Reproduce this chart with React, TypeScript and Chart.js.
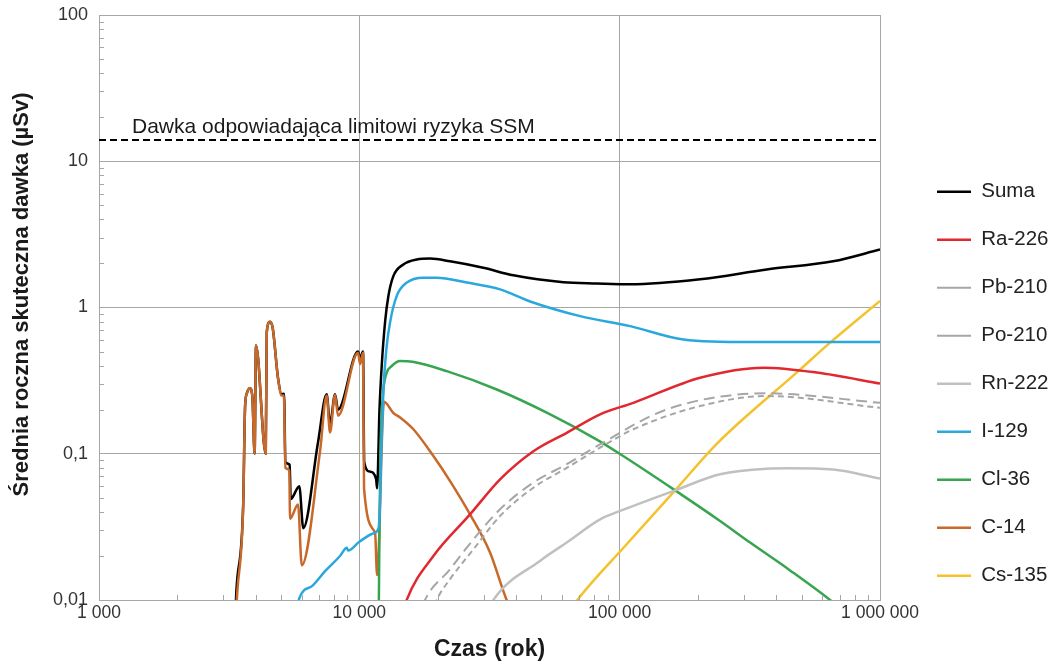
import React, { useEffect, useRef } from "react";
import { Chart, registerables } from "chart.js";

Chart.register(...registerables);

// ---- data (years, µSv) ----
const X_TICKS = [1000, 10000, 100000, 1000000];
const Y_TICKS = [0.01, 0.1, 1, 10, 100];
const LIMIT_VALUE = 14;
const LIMIT_LABEL = "Dawka odpowiadająca limitowi ryzyka SSM";
const X_TITLE = "Czas (rok)";
const Y_TITLE = "Średnia roczna skuteczna dawka (µSv)";

const SUMA: [number, number][] = [
  [3350, 0.009], [3370, 0.0115], [3580, 0.045], [3640, 0.21], [3700, 0.26], [3800, 0.28], [3880, 0.25],
  [3960, 0.1], [4010, 0.55], [4370, 0.1], [4410, 0.68], [4540, 0.8], [4650, 0.72], [4870, 0.33],
  [5030, 0.255], [5140, 0.257], [5200, 0.088], [5400, 0.084], [5450, 0.049], [5880, 0.06], [6090, 0.031],
  [6940, 0.12], [7490, 0.255], [7716, 0.16], [8065, 0.255], [8283, 0.2], [9886, 0.5], [10062, 0.45],
  [10333, 0.5], [10440, 0.088], [10990, 0.0755], [11600, 0.067], [11700, 0.058], [11950, 0.2],
  [12190, 0.4], [12560, 0.8], [12930, 1.2], [13510, 1.64], [14760, 1.97], [16620, 2.13], [18690, 2.16],
  [22310, 2.07], [29930, 1.87], [39060, 1.66], [60800, 1.49], [81700, 1.46], [109700, 1.44],
  [203700, 1.56], [367000, 1.82], [660000, 2.07], [1000000, 2.49],
];
const RA226: [number, number][] = [
  [15000, 0.0092], [15200, 0.01], [19250, 0.02], [26620, 0.0385], [34720, 0.0668], [46620, 0.104],
  [62600, 0.139], [84100, 0.186], [112900, 0.223], [203700, 0.331], [356500, 0.388], [571600, 0.359],
  [1000000, 0.302],
];
const PB210: [number, number][] = [
  [17600, 0.0092], [17880, 0.01], [22310, 0.0162], [25860, 0.0228], [34720, 0.0417], [46620, 0.0636],
  [62600, 0.0848], [84100, 0.116], [151700, 0.201], [367000, 0.259], [1000000, 0.223],
];
const PO210: [number, number][] = [
  [19500, 0.0092], [19830, 0.01], [22310, 0.0139], [27420, 0.0222], [34720, 0.0375], [46620, 0.0586],
  [62600, 0.08], [84100, 0.11], [112900, 0.147], [203700, 0.212], [367000, 0.248], [1000000, 0.206],
];
const RN222: [number, number][] = [
  [32000, 0.0092], [32720, 0.01], [49400, 0.0185], [62600, 0.0247], [84100, 0.0356], [100000, 0.0405],
  [163300, 0.0562], [243000, 0.0724], [367000, 0.079], [450000, 0.0795], [660000, 0.078],
  [1000000, 0.0676],
];
const I129: [number, number][] = [
  [5830, 0.0095], [5870, 0.0102], [6600, 0.0125], [7400, 0.0158], [8430, 0.02], [8950, 0.0228],
  [9050, 0.0218], [10000, 0.025], [11300, 0.0285], [11850, 0.031], [12000, 0.045], [12150, 0.11],
  [12370, 0.27], [12700, 0.52], [13120, 0.79], [13920, 1.2], [15200, 1.48], [17620, 1.6], [19830, 1.6],
  [25860, 1.48], [34720, 1.33], [45290, 1.1], [70500, 0.873], [109700, 0.746], [175800, 0.605],
  [317000, 0.58], [1000000, 0.58],
];
const CL36: [number, number][] = [
  [11880, 0.009], [11950, 0.03], [12050, 0.1], [12150, 0.17], [12370, 0.275], [12740, 0.358],
  [13320, 0.398], [14340, 0.43], [16000, 0.425], [21670, 0.367], [33730, 0.275], [52480, 0.191],
  [81700, 0.125], [100000, 0.1], [163300, 0.0562], [243000, 0.0347], [317000, 0.0247], [450000, 0.016],
  [643000, 0.01], [700000, 0.0088],
];
const C14: [number, number][] = [
  [3370, 0.009], [3400, 0.0115], [3580, 0.044], [3640, 0.21], [3700, 0.26], [3800, 0.28], [3880, 0.25],
  [3960, 0.1], [4010, 0.55], [4370, 0.1], [4410, 0.68], [4540, 0.8], [4650, 0.72], [4870, 0.33],
  [5030, 0.25], [5130, 0.25], [5200, 0.08], [5380, 0.077], [5420, 0.036], [5815, 0.045], [6010, 0.0173],
  [7060, 0.103], [7490, 0.25], [7716, 0.14], [8065, 0.253], [8283, 0.182], [9886, 0.49], [10062, 0.41],
  [10333, 0.49], [10424, 0.058], [11490, 0.029], [11700, 0.0148], [12440, 0.227], [13510, 0.19],
  [14340, 0.177], [16130, 0.147], [19250, 0.0964], [22310, 0.065], [26620, 0.0385], [31770, 0.0211],
  [36800, 0.01], [38500, 0.0085],
];
const CS135: [number, number][] = [
  [68000, 0.0097], [68800, 0.01], [84000, 0.0152], [100000, 0.0213], [163300, 0.0562], [236000, 0.117],
  [493000, 0.376], [643000, 0.575], [1000000, 1.11],
];

const FONT = "'Liberation Sans', Arial, sans-serif";
const GRID = "#a6a6a6";

const pts = (a: [number, number][]) => a.map(([x, y]) => ({ x, y }));

const fmtX = (v: number) => String(v).replace(/\B(?=(\d{3})+(?!\d))/g, " ");
const fmtY = (v: number) => String(v).replace(".", ",");

const decorations = {
  id: "decorations",
  afterDraw(chart: any) {
    const { ctx, chartArea, scales } = chart;
    const xs = scales.x;
    const ys = scales.y;
    ctx.save();
    ctx.strokeStyle = GRID;
    ctx.lineWidth = 1;
    ctx.beginPath();
    for (let d = 3; d < 6; d++) {
      for (let m = 2; m <= 9; m++) {
        const px = Math.round(xs.getPixelForValue(m * Math.pow(10, d))) + 0.5;
        ctx.moveTo(px, chartArea.bottom);
        ctx.lineTo(px, chartArea.bottom - 5);
      }
    }
    for (let d = -2; d < 2; d++) {
      for (let m = 2; m <= 9; m++) {
        const py = Math.round(ys.getPixelForValue(m * Math.pow(10, d))) + 0.5;
        ctx.moveTo(chartArea.left, py);
        ctx.lineTo(chartArea.left + 5, py);
      }
    }
    ctx.stroke();
    // limit label
    ctx.fillStyle = "#1a1a1a";
    ctx.font = `21px ${FONT}`;
    ctx.textBaseline = "alphabetic";
    ctx.textAlign = "left";
    ctx.fillText(LIMIT_LABEL, chartArea.left + 33, ys.getPixelForValue(LIMIT_VALUE) - 7);
    // y axis title
    ctx.translate(chartArea.left - 77, (chartArea.top + chartArea.bottom) / 2 - 13);
    ctx.rotate(-Math.PI / 2);
    ctx.font = `bold 22px ${FONT}`;
    ctx.textAlign = "center";
    ctx.textBaseline = "middle";
    ctx.fillText(Y_TITLE, 0, 0);
    ctx.restore();
  },
};

export default function App() {
  const ref = useRef<HTMLCanvasElement | null>(null);
  useEffect(() => {
    document.body.style.margin = "0";
    Chart.defaults.font.family = FONT;
    const line = (label: string, data: [number, number][], color: string, extra: any = {}) => ({
      label,
      data: pts(data),
      borderColor: color,
      backgroundColor: color,
      borderWidth: 2.5,
      pointRadius: 0,
      fill: false,
      cubicInterpolationMode: "monotone",
      clip: 0,
      ...extra,
    });
    const chart = new Chart(ref.current!, {
      type: "line",
      data: {
        datasets: [
          line("Suma", SUMA, "#000000", { order: 1 }),
          line("Ra-226", RA226, "#e0282e"),
          line("Pb-210", PB210, "#a6a6a6", { borderDash: [11, 6], borderWidth: 2 }),
          line("Po-210", PO210, "#a6a6a6", { borderDash: [6, 4], borderWidth: 2 }),
          line("Rn-222", RN222, "#c0c0c0"),
          line("I-129", I129, "#2aa8dd"),
          line("Cl-36", CL36, "#37a550"),
          line("C-14", C14, "#c8692a"),
          line("Cs-135", CS135, "#f3c22c"),
          line("limit", [[1000, LIMIT_VALUE], [1000000, LIMIT_VALUE]], "#000000", {
            borderDash: [7, 4],
            borderWidth: 2,
            cubicInterpolationMode: "default",
          }),
        ],
      },
      options: {
        responsive: false,
        animation: false,
        layout: { padding: { top: 15, left: 0, right: -8.5, bottom: 0 } },
        scales: {
          x: {
            type: "logarithmic",
            min: 1000,
            max: 1000000,
            afterBuildTicks: (s: any) => {
              s.ticks = X_TICKS.map((v) => ({ value: v }));
            },
            afterFit: (s: any) => {
              s.height = 66;
            },
            ticks: {
              callback: (v: any) => fmtX(Number(v)),
              font: { size: 17.5 },
              color: "#333333",
              padding: 3,
              maxRotation: 0,
              autoSkip: false,
            },
            grid: { color: GRID, drawTicks: false, lineWidth: 1 },
            border: { color: GRID },
            title: {
              display: true,
              text: X_TITLE,
              font: { size: 23, weight: "bold" },
              color: "#1a1a1a",
              padding: { top: 0, bottom: 3 },
            },
          },
          y: {
            type: "logarithmic",
            min: 0.01,
            max: 100,
            afterBuildTicks: (s: any) => {
              s.ticks = Y_TICKS.map((v) => ({ value: v }));
            },
            afterFit: (s: any) => {
              s.width = 99;
              s.paddingTop = 0;
              s.paddingBottom = 0;
            },
            ticks: {
              callback: (v: any) => fmtY(Number(v)),
              font: { size: 18 },
              color: "#333333",
              padding: 11,
              autoSkip: false,
            },
            grid: { color: GRID, drawTicks: false, lineWidth: 1 },
            border: { color: GRID },
            title: { display: false },
          },
          yR: {
            type: "linear",
            position: "right",
            display: true,
            min: 0,
            max: 1,
            grid: { display: false },
            border: { display: false },
            ticks: { display: false },
            afterFit: (s: any) => {
              s.width = 29.5;
            },
          },
        },
        plugins: {
          tooltip: { enabled: false },
          legend: {
            position: "right",
            align: "center",
            title: { display: true, text: "", font: { size: 12 }, padding: { top: 72, bottom: 0 } },
            labels: {
              usePointStyle: true,
              pointStyle: "line",
              pointStyleWidth: 34,
              padding: 27.5,
              color: "#222222",
              font: { size: 20.5 },
              filter: (item: any) => item.text !== "limit",
              sort: (a: any, b: any) => a.datasetIndex - b.datasetIndex,
            },
          },
        },
      } as any,
      plugins: [decorations],
    });
    return () => chart.destroy();
  }, []);
  return (
    <div style={{ position: "fixed", left: 0, top: 0, width: 1050, height: 666, background: "#fff" }}>
      <canvas ref={ref} width={1050} height={666} style={{ display: "block" }} />
    </div>
  );
}
